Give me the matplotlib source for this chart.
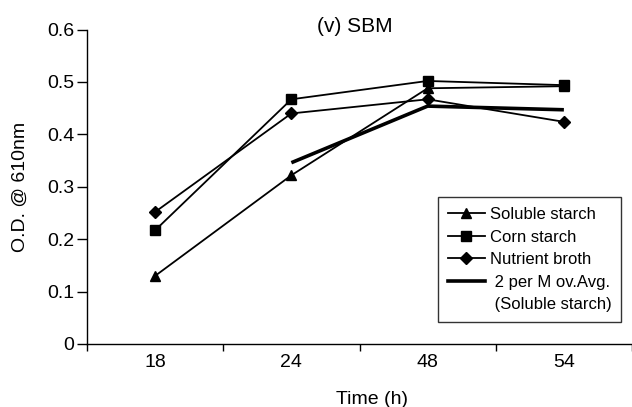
import matplotlib
matplotlib.use("Agg")
import matplotlib.pyplot as plt
from matplotlib.lines import Line2D

plt.rcParams['font.family'] = ['Liberation Sans', 'DejaVu Sans']

categories = ["18", "24", "48", "54"]
soluble_starch = [0.130, 0.322, 0.488, 0.492]
corn_starch = [0.217, 0.467, 0.502, 0.494]
nutrient_broth = [0.252, 0.440, 0.467, 0.424]
mov_avg = [None, 0.346, 0.454, 0.447]
y_ticks = [0, 0.1, 0.2, 0.3, 0.4, 0.5, 0.6]
y_tick_labels = ["0", "0.1", "0.2", "0.3", "0.4", "0.5", "0.6"]

fig = plt.figure(figsize=(6.32, 4.07), dpi=100)
ax = fig.add_axes([87/632, 1-344/407, 1-87/632, (344-29.6)/407])

x = list(range(len(categories)))
ax.plot(x, soluble_starch, color='black', lw=1.3, marker='^', ms=7.5, zorder=3)
ax.plot(x, corn_starch, color='black', lw=1.3, marker='s', ms=7, zorder=3)
ax.plot(x, nutrient_broth, color='black', lw=1.3, marker='D', ms=6.5, zorder=3)
xm = [xi for xi, v in zip(x, mov_avg) if v is not None]
ym = [v for v in mov_avg if v is not None]
ax.plot(xm, ym, color='black', lw=2.6, solid_capstyle='butt', zorder=2)

ax.set_xlim(-0.5, len(categories) - 0.5)
ax.set_ylim(0, 0.6)
ax.set_yticks(y_ticks)
ax.set_yticklabels(y_tick_labels)
ax.set_xticks([i - 0.5 for i in range(len(categories) + 1)])
ax.set_xticklabels([])
ax.set_xticks(x, minor=True)
ax.set_xticklabels(categories, minor=True)
ax.tick_params(axis='x', which='minor', length=0, labelsize=14, pad=7)
ax.tick_params(axis='x', which='major', length=5, width=1, direction='out')
ax.tick_params(axis='y', length=7, width=1, direction='out', labelsize=14, pad=2)
for s in ['top', 'right']:
    ax.spines[s].set_visible(False)
for s in ['left', 'bottom']:
    ax.spines[s].set_linewidth(1)

fig.text(355/632, 1-26/407, "(v) SBM", ha='center', va='center', fontsize=15)
fig.text(20/632, 1-187/407, "O.D. @ 610nm", ha='center', va='center', rotation=90, fontsize=14)
fig.text(372/632, 1-400/407, "Time (h)", ha='center', va='center', fontsize=14)

handles = [
    Line2D([], [], color='black', lw=1.3, marker='^', ms=7.5),
    Line2D([], [], color='black', lw=1.3, marker='s', ms=7),
    Line2D([], [], color='black', lw=1.3, marker='D', ms=6.5),
    Line2D([], [], color='black', lw=2.6),
    Line2D([], [], color='none', lw=0),
]
labels = ["Soluble starch", "Corn starch", "Nutrient broth", " 2 per M ov.Avg.", " (Soluble starch)"]
leg = fig.legend(handles, labels, loc='upper left', bbox_to_anchor=(438/632, 1-197/407),
                 frameon=True, fancybox=False, edgecolor='black', fontsize=12,
                 handlelength=2.2, handletextpad=0.3, labelspacing=0.45,
                 borderpad=0.6, borderaxespad=0)
leg.get_frame().set_linewidth(1)

fig.savefig("out.png", dpi=100)
